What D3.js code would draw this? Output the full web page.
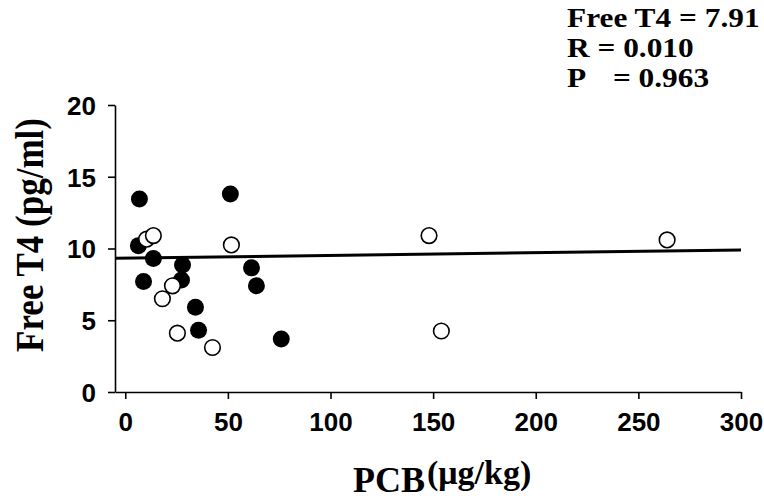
<!DOCTYPE html>
<meta charset="utf-8">
<script src="https://d3js.org/d3.v7.min.js"></script>
<style>
body { margin: 0; background: #fff; }
.tick text { font: bold 26px "Liberation Sans", Arial, sans-serif; fill: #000; }
.serif { font-family: "Liberation Serif", "Times New Roman", serif; font-weight: bold; fill: #000; }
</style>
<body>
<script>

// PCB (ug/kg) vs Free T4 (pg/ml)
var filledPCB = [6.9, 6.4, 8.9, 13.7, 27.9, 27.4, 34.2, 35.7, 51.2, 61.5, 63.9, 76];
var filledT4  = [13.45, 10.2, 7.7, 9.3, 8.85, 7.8, 5.9, 4.3, 13.8, 8.65, 7.4, 3.7];

var openPCB = [10.4, 13.7, 18.1, 23, 25.4, 42.5, 51.7, 148, 154, 264];
var openT4  = [10.65, 10.9, 6.5, 7.4, 4.1, 3.1, 10.25, 10.9, 4.25, 10.6];

// fitted line endpoints
var fitPCB = [-5, 300];
var fitT4  = [9.32, 9.9];

var xTicks = [0, 50, 100, 150, 200, 250, 300];
var yTicks = [0, 5, 10, 15, 20];

var statLines = ["Free T4 = 7.91", "R = 0.010", "P"];

var width = 764, height = 500;

var svg = d3.select("body").append("svg")
    .attr("width", width)
    .attr("height", height);

var x = d3.scaleLinear().domain([-5, 300]).range([115, 741]);
var y = d3.scaleLinear().domain([0, 20]).range([392, 105]);

var xAxis = svg.append("g")
    .attr("transform", "translate(0," + y(0) + ")")
    .call(d3.axisBottom(x).tickValues(xTicks).tickSize(7).tickSizeOuter(0).tickPadding(14));

var yAxis = svg.append("g")
    .attr("transform", "translate(" + x(-5) + ",0)")
    .call(d3.axisLeft(y).tickValues(yTicks).tickSize(7).tickSizeOuter(0).tickPadding(12));

svg.selectAll(".domain, .tick line")
    .attr("stroke", "#000")
    .attr("stroke-width", 1.6);
yAxis.selectAll(".tick text").attr("dy", "0.36em");

// regression line
svg.append("line")
    .attr("x1", x(fitPCB[0])).attr("y1", y(fitT4[0]))
    .attr("x2", x(fitPCB[1])).attr("y2", y(fitT4[1]))
    .attr("stroke", "#000")
    .attr("stroke-width", 3);

var filled = filledPCB.map(function(d, i) { return {x: d, y: filledT4[i]}; });
var open = openPCB.map(function(d, i) { return {x: d, y: openT4[i]}; });

svg.append("g").selectAll("circle")
    .data(filled)
    .enter().append("circle")
    .attr("cx", d => x(d.x))
    .attr("cy", d => y(d.y))
    .attr("r", 8.5)
    .attr("fill", "#000");

svg.append("g").selectAll("circle")
    .data(open)
    .enter().append("circle")
    .attr("cx", d => x(d.x))
    .attr("cy", d => y(d.y))
    .attr("r", 7.8)
    .attr("fill", "#fff")
    .attr("stroke", "#000")
    .attr("stroke-width", 1.6);

// axis titles
svg.append("text")
    .attr("class", "serif")
    .attr("transform", "translate(43,235) rotate(-90) scale(1,1.12)")
    .attr("text-anchor", "middle")
    .style("font-size", "35px")
    .text("Free T4 (pg/ml)");

var xt = svg.append("text")
    .attr("class", "serif")
    .attr("x", 353)
    .attr("y", 492);
xt.append("tspan").style("font-size", "36px").text("PCB");
xt.append("tspan").style("font-size", "34px").attr("dx", 2).attr("dy", -8).text("(\u03bcg/kg)");

// stats
var stats = svg.append("g")
    .attr("transform", "translate(567,0) scale(1.12,1)");

stats.selectAll("text")
    .data(statLines)
    .enter().append("text")
    .attr("class", "serif")
    .attr("x", 0)
    .attr("y", (d, i) => 27 + i * 30)
    .style("font-size", "28px")
    .text(d => d);

stats.append("text")
    .attr("class", "serif")
    .attr("x", 41)
    .attr("y", 87)
    .style("font-size", "28px")
    .text("= 0.963");

</script>
</body>
